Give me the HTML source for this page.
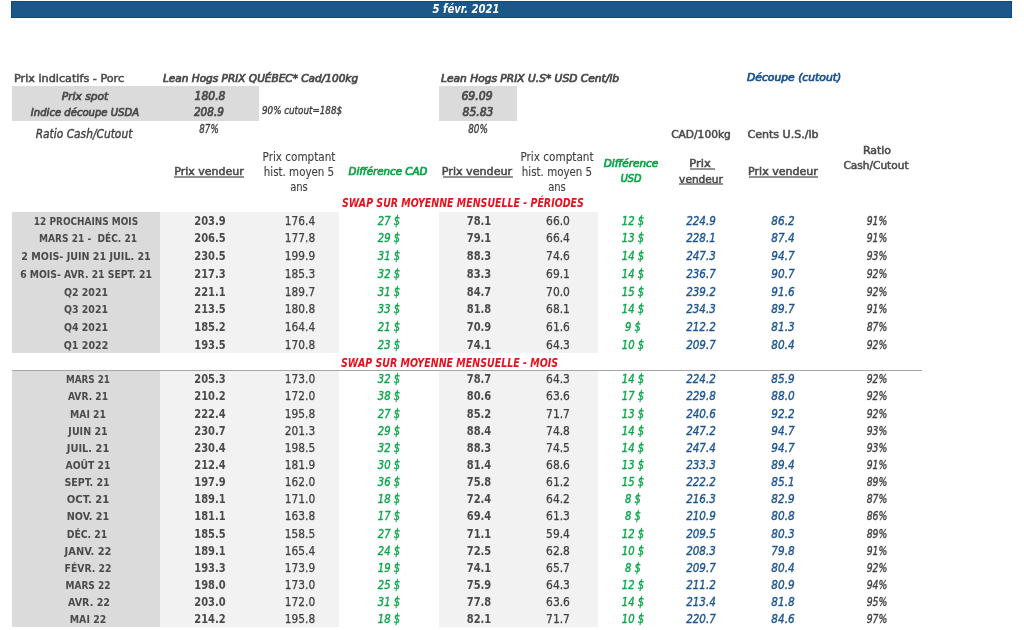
<!DOCTYPE html>
<html><head><meta charset="utf-8"><title>Prix indicatifs - Porc</title>
<style>
html,body{margin:0;padding:0;background:#fff;}
body{width:1024px;height:630px;position:relative;overflow:hidden;font-family:"DejaVu Sans Condensed","DejaVu Sans",sans-serif;}
.t{position:absolute;white-space:nowrap;font-family:"DejaVu Sans Condensed","DejaVu Sans",sans-serif;font-stretch:condensed;}
</style></head><body>
<div style="position:absolute;left:11px;top:1px;width:1001px;height:17px;background:#1c5789;box-sizing:border-box;border:1px solid #0c4a84;"></div>
<div class="t" style="top:3.40px;font-size:12px;line-height:12px;color:#ffffff;font-weight:bold;font-style:italic;left:265.84px;width:400px;text-align:center;transform:scaleX(0.9315);">5 févr. 2021</div>
<div style="position:absolute;left:12px;top:86px;width:247px;height:34.5px;background:#dbdbdb;"></div>
<div style="position:absolute;left:439px;top:86px;width:78px;height:34.5px;background:#dbdbdb;"></div>
<div class="t" style="top:73.00px;font-size:11.25px;line-height:11.25px;color:#4a4a4a;-webkit-text-stroke:0.5px #4a4a4a;left:13.71px;transform:scaleX(1.1077);transform-origin:0 0;">Prix indicatifs - Porc</div>
<div class="t" style="top:73.00px;font-size:11px;line-height:11px;color:#4a4a4a;-webkit-text-stroke:0.7px #4a4a4a;font-style:italic;left:162.88px;transform:scaleX(1.0622);transform-origin:0 0;">Lean Hogs PRIX QUÉBEC* Cad/100kg</div>
<div class="t" style="top:73.00px;font-size:11px;line-height:11px;color:#4a4a4a;-webkit-text-stroke:0.7px #4a4a4a;font-style:italic;left:440.81px;transform:scaleX(1.0757);transform-origin:0 0;">Lean Hogs PRIX U.S* USD Cent/lb</div>
<div class="t" style="top:72.00px;font-size:11px;line-height:11px;color:#1c5490;-webkit-text-stroke:0.7px #1c5490;font-style:italic;left:747.16px;transform:scaleX(1.0887);transform-origin:0 0;">Découpe (cutout)</div>
<div class="t" style="top:91.00px;font-size:11px;line-height:11px;color:#4a4a4a;-webkit-text-stroke:0.7px #4a4a4a;font-style:italic;left:-115.51px;width:400px;text-align:center;transform:scaleX(1.0798);">Prix spot</div>
<div class="t" style="top:107.00px;font-size:11px;line-height:11px;color:#4a4a4a;-webkit-text-stroke:0.7px #4a4a4a;font-style:italic;left:-115.04px;width:400px;text-align:center;transform:scaleX(1.0167);">Indice découpe USDA</div>
<div class="t" style="top:127.80px;font-size:12px;line-height:12px;color:#404040;-webkit-text-stroke:0.35px #404040;font-style:italic;left:-116.14px;width:400px;text-align:center;transform:scaleX(0.9866);">Ratio Cash/Cutout</div>
<div class="t" style="top:90.50px;font-size:11.7px;line-height:11.7px;color:#4a4a4a;-webkit-text-stroke:0.7px #4a4a4a;font-style:italic;left:9.67px;width:400px;text-align:center;transform:scaleX(1.024);">180.8</div>
<div class="t" style="top:107.00px;font-size:11.7px;line-height:11.7px;color:#4a4a4a;-webkit-text-stroke:0.7px #4a4a4a;font-style:italic;left:9.46px;width:400px;text-align:center;transform:scaleX(1.0021);">208.9</div>
<div class="t" style="top:106.30px;font-size:10px;line-height:10px;color:#404040;-webkit-text-stroke:0.35px #404040;font-style:italic;left:262.11px;transform:scaleX(0.9738);transform-origin:0 0;">90% cutout=188$</div>
<div class="t" style="top:123.30px;font-size:12px;line-height:12px;color:#404040;-webkit-text-stroke:0.35px #404040;font-style:italic;left:9.17px;width:400px;text-align:center;transform:scaleX(0.8097);">87%</div>
<div class="t" style="top:90.50px;font-size:11.7px;line-height:11.7px;color:#4a4a4a;-webkit-text-stroke:0.7px #4a4a4a;font-style:italic;left:277.36px;width:400px;text-align:center;transform:scaleX(1.0367);">69.09</div>
<div class="t" style="top:107.00px;font-size:11.7px;line-height:11.7px;color:#4a4a4a;-webkit-text-stroke:0.7px #4a4a4a;font-style:italic;left:277.92px;width:400px;text-align:center;transform:scaleX(1.0266);">85.83</div>
<div class="t" style="top:123.30px;font-size:12px;line-height:12px;color:#404040;-webkit-text-stroke:0.35px #404040;font-style:italic;left:277.52px;width:400px;text-align:center;transform:scaleX(0.8214);">80%</div>
<div class="t" style="top:129.00px;font-size:11px;line-height:11px;color:#4a4a4a;-webkit-text-stroke:0.5px #4a4a4a;left:501.05px;width:400px;text-align:center;transform:scaleX(1.0738);">CAD/100kg</div>
<div class="t" style="top:129.00px;font-size:11px;line-height:11px;color:#4a4a4a;-webkit-text-stroke:0.5px #4a4a4a;left:583.34px;width:400px;text-align:center;transform:scaleX(1.1173);">Cents U.S./lb</div>
<div class="t" style="top:166.00px;font-size:11px;line-height:11px;color:#4a4a4a;-webkit-text-stroke:0.5px #4a4a4a;left:8.96px;width:400px;text-align:center;transform:scaleX(1.1131);">Prix vendeur</div>
<div class="t" style="top:152.10px;font-size:11.5px;line-height:11.5px;color:#404040;-webkit-text-stroke:0.1px #404040;left:99.12px;width:400px;text-align:center;transform:scaleX(1.0083);">Prix comptant</div>
<div class="t" style="top:166.80px;font-size:11.5px;line-height:11.5px;color:#404040;-webkit-text-stroke:0.1px #404040;left:99.49px;width:400px;text-align:center;transform:scaleX(0.9937);">hist. moyen 5</div>
<div class="t" style="top:181.80px;font-size:11.5px;line-height:11.5px;color:#404040;-webkit-text-stroke:0.1px #404040;left:98.90px;width:400px;text-align:center;transform:scaleX(0.9687);">ans</div>
<div class="t" style="top:152.10px;font-size:11.5px;line-height:11.5px;color:#404040;-webkit-text-stroke:0.1px #404040;left:357.40px;width:400px;text-align:center;transform:scaleX(1.0131);">Prix comptant</div>
<div class="t" style="top:166.80px;font-size:11.5px;line-height:11.5px;color:#404040;-webkit-text-stroke:0.1px #404040;left:357.46px;width:400px;text-align:center;transform:scaleX(0.9932);">hist. moyen 5</div>
<div class="t" style="top:181.80px;font-size:11.5px;line-height:11.5px;color:#404040;-webkit-text-stroke:0.1px #404040;left:357.00px;width:400px;text-align:center;transform:scaleX(0.9687);">ans</div>
<div class="t" style="top:165.60px;font-size:11px;line-height:11px;color:#0aa64a;-webkit-text-stroke:0.7px #0aa64a;font-style:italic;left:188.26px;width:400px;text-align:center;transform:scaleX(1.0399);">Différence CAD</div>
<div class="t" style="top:166.00px;font-size:11px;line-height:11px;color:#4a4a4a;-webkit-text-stroke:0.5px #4a4a4a;left:276.91px;width:400px;text-align:center;transform:scaleX(1.1244);">Prix vendeur</div>
<div class="t" style="top:158.30px;font-size:11px;line-height:11px;color:#0aa64a;-webkit-text-stroke:0.7px #0aa64a;font-style:italic;left:431.46px;width:400px;text-align:center;transform:scaleX(1.058);">Différence</div>
<div class="t" style="top:173.30px;font-size:11px;line-height:11px;color:#0aa64a;-webkit-text-stroke:0.7px #0aa64a;font-style:italic;left:430.92px;width:400px;text-align:center;transform:scaleX(0.9792);">USD</div>
<div class="t" style="top:158.30px;font-size:11px;line-height:11px;color:#4a4a4a;-webkit-text-stroke:0.5px #4a4a4a;left:500.41px;width:400px;text-align:center;transform:scaleX(1.1555);">Prix</div>
<div class="t" style="top:173.50px;font-size:11px;line-height:11px;color:#4a4a4a;-webkit-text-stroke:0.5px #4a4a4a;left:501.07px;width:400px;text-align:center;transform:scaleX(1.0689);">vendeur</div>
<div class="t" style="top:166.00px;font-size:11px;line-height:11px;color:#4a4a4a;-webkit-text-stroke:0.5px #4a4a4a;left:582.63px;width:400px;text-align:center;transform:scaleX(1.1162);">Prix vendeur</div>
<div class="t" style="top:145.40px;font-size:11px;line-height:11px;color:#4a4a4a;-webkit-text-stroke:0.5px #4a4a4a;left:676.76px;width:400px;text-align:center;transform:scaleX(1.1082);">Ratio</div>
<div class="t" style="top:160.10px;font-size:11px;line-height:11px;color:#4a4a4a;-webkit-text-stroke:0.5px #4a4a4a;left:676.16px;width:400px;text-align:center;transform:scaleX(1.0667);">Cash/Cutout</div>
<div style="position:absolute;left:174.4px;top:176px;width:69.4px;height:2px;background:#939393;"></div>
<div style="position:absolute;left:443.1px;top:176px;width:69.69999999999993px;height:2px;background:#939393;"></div>
<div style="position:absolute;left:748.8px;top:176px;width:69.30000000000007px;height:2px;background:#939393;"></div>
<div style="position:absolute;left:690.1px;top:168px;width:24.899999999999977px;height:2px;background:#939393;"></div>
<div style="position:absolute;left:678.7px;top:183px;width:44.5px;height:2px;background:#939393;"></div>
<div class="t" style="top:198.20px;font-size:11.5px;line-height:11.5px;color:#e8101c;font-weight:bold;font-style:italic;left:341.57px;transform:scaleX(0.9125);transform-origin:0 0;">SWAP SUR MOYENNE MENSUELLE - PÉRIODES</div>
<div style="position:absolute;left:12px;top:212px;width:148px;height:141.0px;background:#dbdbdb;"></div>
<div style="position:absolute;left:160px;top:212px;width:179px;height:141.0px;background:#f2f2f2;"></div>
<div style="position:absolute;left:439px;top:212px;width:158.5px;height:141.0px;background:#f2f2f2;"></div>
<div class="t" style="top:215.80px;font-size:11px;line-height:11px;color:#4a4a4a;font-weight:bold;left:-113.88px;width:400px;text-align:center;transform:scaleX(0.9043);">12 PROCHAINS MOIS</div>
<div class="t" style="top:214.80px;font-size:12px;line-height:12px;color:#4a4a4a;font-weight:bold;left:10.30px;width:400px;text-align:center;transform:scaleX(0.92);">203.9</div>
<div class="t" style="top:214.80px;font-size:12px;line-height:12px;color:#404040;-webkit-text-stroke:0.25px #404040;left:99.90px;width:400px;text-align:center;transform:scaleX(0.98);">176.4</div>
<div class="t" style="top:214.80px;font-size:12px;line-height:12px;color:#0aa64a;-webkit-text-stroke:0.35px #0aa64a;font-style:italic;left:188.90px;width:400px;text-align:center;transform:scaleX(0.93);">27 $</div>
<div class="t" style="top:214.80px;font-size:12px;line-height:12px;color:#4a4a4a;font-weight:bold;left:278.60px;width:400px;text-align:center;transform:scaleX(0.92);">78.1</div>
<div class="t" style="top:214.80px;font-size:12px;line-height:12px;color:#404040;-webkit-text-stroke:0.25px #404040;left:358.30px;width:400px;text-align:center;transform:scaleX(0.99);">66.0</div>
<div class="t" style="top:214.80px;font-size:12px;line-height:12px;color:#0aa64a;-webkit-text-stroke:0.35px #0aa64a;font-style:italic;left:432.60px;width:400px;text-align:center;transform:scaleX(0.93);">12 $</div>
<div class="t" style="top:214.80px;font-size:12px;line-height:12px;color:#1c5490;-webkit-text-stroke:0.35px #1c5490;font-style:italic;left:500.70px;width:400px;text-align:center;transform:scaleX(0.96);">224.9</div>
<div class="t" style="top:214.80px;font-size:12px;line-height:12px;color:#1c5490;-webkit-text-stroke:0.35px #1c5490;font-style:italic;left:583.20px;width:400px;text-align:center;transform:scaleX(0.97);">86.2</div>
<div class="t" style="top:214.80px;font-size:12px;line-height:12px;color:#404040;-webkit-text-stroke:0.35px #404040;font-style:italic;left:677.00px;width:400px;text-align:center;transform:scaleX(0.86);">91%</div>
<div class="t" style="top:233.48px;font-size:11px;line-height:11px;color:#4a4a4a;font-weight:bold;left:-112.32px;width:400px;text-align:center;transform:scaleX(0.9156);">MARS 21 -&nbsp; DÉC. 21</div>
<div class="t" style="top:232.48px;font-size:12px;line-height:12px;color:#4a4a4a;font-weight:bold;left:10.30px;width:400px;text-align:center;transform:scaleX(0.92);">206.5</div>
<div class="t" style="top:232.48px;font-size:12px;line-height:12px;color:#404040;-webkit-text-stroke:0.25px #404040;left:99.90px;width:400px;text-align:center;transform:scaleX(0.98);">177.8</div>
<div class="t" style="top:232.48px;font-size:12px;line-height:12px;color:#0aa64a;-webkit-text-stroke:0.35px #0aa64a;font-style:italic;left:188.90px;width:400px;text-align:center;transform:scaleX(0.93);">29 $</div>
<div class="t" style="top:232.48px;font-size:12px;line-height:12px;color:#4a4a4a;font-weight:bold;left:278.60px;width:400px;text-align:center;transform:scaleX(0.92);">79.1</div>
<div class="t" style="top:232.48px;font-size:12px;line-height:12px;color:#404040;-webkit-text-stroke:0.25px #404040;left:358.30px;width:400px;text-align:center;transform:scaleX(0.99);">66.4</div>
<div class="t" style="top:232.48px;font-size:12px;line-height:12px;color:#0aa64a;-webkit-text-stroke:0.35px #0aa64a;font-style:italic;left:432.60px;width:400px;text-align:center;transform:scaleX(0.93);">13 $</div>
<div class="t" style="top:232.48px;font-size:12px;line-height:12px;color:#1c5490;-webkit-text-stroke:0.35px #1c5490;font-style:italic;left:500.70px;width:400px;text-align:center;transform:scaleX(0.96);">228.1</div>
<div class="t" style="top:232.48px;font-size:12px;line-height:12px;color:#1c5490;-webkit-text-stroke:0.35px #1c5490;font-style:italic;left:583.20px;width:400px;text-align:center;transform:scaleX(0.97);">87.4</div>
<div class="t" style="top:232.48px;font-size:12px;line-height:12px;color:#404040;-webkit-text-stroke:0.35px #404040;font-style:italic;left:677.00px;width:400px;text-align:center;transform:scaleX(0.86);">91%</div>
<div class="t" style="top:251.16px;font-size:11px;line-height:11px;color:#4a4a4a;font-weight:bold;left:-114.38px;width:400px;text-align:center;transform:scaleX(0.9669);">2 MOIS- JUIN 21 JUIL. 21</div>
<div class="t" style="top:250.16px;font-size:12px;line-height:12px;color:#4a4a4a;font-weight:bold;left:10.30px;width:400px;text-align:center;transform:scaleX(0.92);">230.5</div>
<div class="t" style="top:250.16px;font-size:12px;line-height:12px;color:#404040;-webkit-text-stroke:0.25px #404040;left:99.90px;width:400px;text-align:center;transform:scaleX(0.98);">199.9</div>
<div class="t" style="top:250.16px;font-size:12px;line-height:12px;color:#0aa64a;-webkit-text-stroke:0.35px #0aa64a;font-style:italic;left:188.90px;width:400px;text-align:center;transform:scaleX(0.93);">31 $</div>
<div class="t" style="top:250.16px;font-size:12px;line-height:12px;color:#4a4a4a;font-weight:bold;left:278.60px;width:400px;text-align:center;transform:scaleX(0.92);">88.3</div>
<div class="t" style="top:250.16px;font-size:12px;line-height:12px;color:#404040;-webkit-text-stroke:0.25px #404040;left:358.30px;width:400px;text-align:center;transform:scaleX(0.99);">74.6</div>
<div class="t" style="top:250.16px;font-size:12px;line-height:12px;color:#0aa64a;-webkit-text-stroke:0.35px #0aa64a;font-style:italic;left:432.60px;width:400px;text-align:center;transform:scaleX(0.93);">14 $</div>
<div class="t" style="top:250.16px;font-size:12px;line-height:12px;color:#1c5490;-webkit-text-stroke:0.35px #1c5490;font-style:italic;left:500.70px;width:400px;text-align:center;transform:scaleX(0.96);">247.3</div>
<div class="t" style="top:250.16px;font-size:12px;line-height:12px;color:#1c5490;-webkit-text-stroke:0.35px #1c5490;font-style:italic;left:583.20px;width:400px;text-align:center;transform:scaleX(0.97);">94.7</div>
<div class="t" style="top:250.16px;font-size:12px;line-height:12px;color:#404040;-webkit-text-stroke:0.35px #404040;font-style:italic;left:677.00px;width:400px;text-align:center;transform:scaleX(0.86);">93%</div>
<div class="t" style="top:268.84px;font-size:11px;line-height:11px;color:#4a4a4a;font-weight:bold;left:-113.57px;width:400px;text-align:center;transform:scaleX(0.9346);">6 MOIS- AVR. 21 SEPT. 21</div>
<div class="t" style="top:267.84px;font-size:12px;line-height:12px;color:#4a4a4a;font-weight:bold;left:10.30px;width:400px;text-align:center;transform:scaleX(0.92);">217.3</div>
<div class="t" style="top:267.84px;font-size:12px;line-height:12px;color:#404040;-webkit-text-stroke:0.25px #404040;left:99.90px;width:400px;text-align:center;transform:scaleX(0.98);">185.3</div>
<div class="t" style="top:267.84px;font-size:12px;line-height:12px;color:#0aa64a;-webkit-text-stroke:0.35px #0aa64a;font-style:italic;left:188.90px;width:400px;text-align:center;transform:scaleX(0.93);">32 $</div>
<div class="t" style="top:267.84px;font-size:12px;line-height:12px;color:#4a4a4a;font-weight:bold;left:278.60px;width:400px;text-align:center;transform:scaleX(0.92);">83.3</div>
<div class="t" style="top:267.84px;font-size:12px;line-height:12px;color:#404040;-webkit-text-stroke:0.25px #404040;left:358.30px;width:400px;text-align:center;transform:scaleX(0.99);">69.1</div>
<div class="t" style="top:267.84px;font-size:12px;line-height:12px;color:#0aa64a;-webkit-text-stroke:0.35px #0aa64a;font-style:italic;left:432.60px;width:400px;text-align:center;transform:scaleX(0.93);">14 $</div>
<div class="t" style="top:267.84px;font-size:12px;line-height:12px;color:#1c5490;-webkit-text-stroke:0.35px #1c5490;font-style:italic;left:500.70px;width:400px;text-align:center;transform:scaleX(0.96);">236.7</div>
<div class="t" style="top:267.84px;font-size:12px;line-height:12px;color:#1c5490;-webkit-text-stroke:0.35px #1c5490;font-style:italic;left:583.20px;width:400px;text-align:center;transform:scaleX(0.97);">90.7</div>
<div class="t" style="top:267.84px;font-size:12px;line-height:12px;color:#404040;-webkit-text-stroke:0.35px #404040;font-style:italic;left:677.00px;width:400px;text-align:center;transform:scaleX(0.86);">92%</div>
<div class="t" style="top:286.52px;font-size:11px;line-height:11px;color:#4a4a4a;font-weight:bold;left:-114.37px;width:400px;text-align:center;transform:scaleX(0.9537);">Q2 2021</div>
<div class="t" style="top:285.52px;font-size:12px;line-height:12px;color:#4a4a4a;font-weight:bold;left:10.30px;width:400px;text-align:center;transform:scaleX(0.92);">221.1</div>
<div class="t" style="top:285.52px;font-size:12px;line-height:12px;color:#404040;-webkit-text-stroke:0.25px #404040;left:99.90px;width:400px;text-align:center;transform:scaleX(0.98);">189.7</div>
<div class="t" style="top:285.52px;font-size:12px;line-height:12px;color:#0aa64a;-webkit-text-stroke:0.35px #0aa64a;font-style:italic;left:188.90px;width:400px;text-align:center;transform:scaleX(0.93);">31 $</div>
<div class="t" style="top:285.52px;font-size:12px;line-height:12px;color:#4a4a4a;font-weight:bold;left:278.60px;width:400px;text-align:center;transform:scaleX(0.92);">84.7</div>
<div class="t" style="top:285.52px;font-size:12px;line-height:12px;color:#404040;-webkit-text-stroke:0.25px #404040;left:358.30px;width:400px;text-align:center;transform:scaleX(0.99);">70.0</div>
<div class="t" style="top:285.52px;font-size:12px;line-height:12px;color:#0aa64a;-webkit-text-stroke:0.35px #0aa64a;font-style:italic;left:432.60px;width:400px;text-align:center;transform:scaleX(0.93);">15 $</div>
<div class="t" style="top:285.52px;font-size:12px;line-height:12px;color:#1c5490;-webkit-text-stroke:0.35px #1c5490;font-style:italic;left:500.70px;width:400px;text-align:center;transform:scaleX(0.96);">239.2</div>
<div class="t" style="top:285.52px;font-size:12px;line-height:12px;color:#1c5490;-webkit-text-stroke:0.35px #1c5490;font-style:italic;left:583.20px;width:400px;text-align:center;transform:scaleX(0.97);">91.6</div>
<div class="t" style="top:285.52px;font-size:12px;line-height:12px;color:#404040;-webkit-text-stroke:0.35px #404040;font-style:italic;left:677.00px;width:400px;text-align:center;transform:scaleX(0.86);">92%</div>
<div class="t" style="top:304.20px;font-size:11px;line-height:11px;color:#4a4a4a;font-weight:bold;left:-114.37px;width:400px;text-align:center;transform:scaleX(0.9537);">Q3 2021</div>
<div class="t" style="top:303.20px;font-size:12px;line-height:12px;color:#4a4a4a;font-weight:bold;left:10.30px;width:400px;text-align:center;transform:scaleX(0.92);">213.5</div>
<div class="t" style="top:303.20px;font-size:12px;line-height:12px;color:#404040;-webkit-text-stroke:0.25px #404040;left:99.90px;width:400px;text-align:center;transform:scaleX(0.98);">180.8</div>
<div class="t" style="top:303.20px;font-size:12px;line-height:12px;color:#0aa64a;-webkit-text-stroke:0.35px #0aa64a;font-style:italic;left:188.90px;width:400px;text-align:center;transform:scaleX(0.93);">33 $</div>
<div class="t" style="top:303.20px;font-size:12px;line-height:12px;color:#4a4a4a;font-weight:bold;left:278.60px;width:400px;text-align:center;transform:scaleX(0.92);">81.8</div>
<div class="t" style="top:303.20px;font-size:12px;line-height:12px;color:#404040;-webkit-text-stroke:0.25px #404040;left:358.30px;width:400px;text-align:center;transform:scaleX(0.99);">68.1</div>
<div class="t" style="top:303.20px;font-size:12px;line-height:12px;color:#0aa64a;-webkit-text-stroke:0.35px #0aa64a;font-style:italic;left:432.60px;width:400px;text-align:center;transform:scaleX(0.93);">14 $</div>
<div class="t" style="top:303.20px;font-size:12px;line-height:12px;color:#1c5490;-webkit-text-stroke:0.35px #1c5490;font-style:italic;left:500.70px;width:400px;text-align:center;transform:scaleX(0.96);">234.3</div>
<div class="t" style="top:303.20px;font-size:12px;line-height:12px;color:#1c5490;-webkit-text-stroke:0.35px #1c5490;font-style:italic;left:583.20px;width:400px;text-align:center;transform:scaleX(0.97);">89.7</div>
<div class="t" style="top:303.20px;font-size:12px;line-height:12px;color:#404040;-webkit-text-stroke:0.35px #404040;font-style:italic;left:677.00px;width:400px;text-align:center;transform:scaleX(0.86);">91%</div>
<div class="t" style="top:321.88px;font-size:11px;line-height:11px;color:#4a4a4a;font-weight:bold;left:-114.37px;width:400px;text-align:center;transform:scaleX(0.9537);">Q4 2021</div>
<div class="t" style="top:320.88px;font-size:12px;line-height:12px;color:#4a4a4a;font-weight:bold;left:10.30px;width:400px;text-align:center;transform:scaleX(0.92);">185.2</div>
<div class="t" style="top:320.88px;font-size:12px;line-height:12px;color:#404040;-webkit-text-stroke:0.25px #404040;left:99.90px;width:400px;text-align:center;transform:scaleX(0.98);">164.4</div>
<div class="t" style="top:320.88px;font-size:12px;line-height:12px;color:#0aa64a;-webkit-text-stroke:0.35px #0aa64a;font-style:italic;left:188.90px;width:400px;text-align:center;transform:scaleX(0.93);">21 $</div>
<div class="t" style="top:320.88px;font-size:12px;line-height:12px;color:#4a4a4a;font-weight:bold;left:278.60px;width:400px;text-align:center;transform:scaleX(0.92);">70.9</div>
<div class="t" style="top:320.88px;font-size:12px;line-height:12px;color:#404040;-webkit-text-stroke:0.25px #404040;left:358.30px;width:400px;text-align:center;transform:scaleX(0.99);">61.6</div>
<div class="t" style="top:320.88px;font-size:12px;line-height:12px;color:#0aa64a;-webkit-text-stroke:0.35px #0aa64a;font-style:italic;left:432.60px;width:400px;text-align:center;transform:scaleX(0.93);">9 $</div>
<div class="t" style="top:320.88px;font-size:12px;line-height:12px;color:#1c5490;-webkit-text-stroke:0.35px #1c5490;font-style:italic;left:500.70px;width:400px;text-align:center;transform:scaleX(0.96);">212.2</div>
<div class="t" style="top:320.88px;font-size:12px;line-height:12px;color:#1c5490;-webkit-text-stroke:0.35px #1c5490;font-style:italic;left:583.20px;width:400px;text-align:center;transform:scaleX(0.97);">81.3</div>
<div class="t" style="top:320.88px;font-size:12px;line-height:12px;color:#404040;-webkit-text-stroke:0.35px #404040;font-style:italic;left:677.00px;width:400px;text-align:center;transform:scaleX(0.86);">87%</div>
<div class="t" style="top:339.56px;font-size:11px;line-height:11px;color:#4a4a4a;font-weight:bold;left:-114.12px;width:400px;text-align:center;transform:scaleX(0.9628);">Q1 2022</div>
<div class="t" style="top:338.56px;font-size:12px;line-height:12px;color:#4a4a4a;font-weight:bold;left:10.30px;width:400px;text-align:center;transform:scaleX(0.92);">193.5</div>
<div class="t" style="top:338.56px;font-size:12px;line-height:12px;color:#404040;-webkit-text-stroke:0.25px #404040;left:99.90px;width:400px;text-align:center;transform:scaleX(0.98);">170.8</div>
<div class="t" style="top:338.56px;font-size:12px;line-height:12px;color:#0aa64a;-webkit-text-stroke:0.35px #0aa64a;font-style:italic;left:188.90px;width:400px;text-align:center;transform:scaleX(0.93);">23 $</div>
<div class="t" style="top:338.56px;font-size:12px;line-height:12px;color:#4a4a4a;font-weight:bold;left:278.60px;width:400px;text-align:center;transform:scaleX(0.92);">74.1</div>
<div class="t" style="top:338.56px;font-size:12px;line-height:12px;color:#404040;-webkit-text-stroke:0.25px #404040;left:358.30px;width:400px;text-align:center;transform:scaleX(0.99);">64.3</div>
<div class="t" style="top:338.56px;font-size:12px;line-height:12px;color:#0aa64a;-webkit-text-stroke:0.35px #0aa64a;font-style:italic;left:432.60px;width:400px;text-align:center;transform:scaleX(0.93);">10 $</div>
<div class="t" style="top:338.56px;font-size:12px;line-height:12px;color:#1c5490;-webkit-text-stroke:0.35px #1c5490;font-style:italic;left:500.70px;width:400px;text-align:center;transform:scaleX(0.96);">209.7</div>
<div class="t" style="top:338.56px;font-size:12px;line-height:12px;color:#1c5490;-webkit-text-stroke:0.35px #1c5490;font-style:italic;left:583.20px;width:400px;text-align:center;transform:scaleX(0.97);">80.4</div>
<div class="t" style="top:338.56px;font-size:12px;line-height:12px;color:#404040;-webkit-text-stroke:0.35px #404040;font-style:italic;left:677.00px;width:400px;text-align:center;transform:scaleX(0.86);">92%</div>
<div class="t" style="top:357.60px;font-size:11.5px;line-height:11.5px;color:#e8101c;font-weight:bold;font-style:italic;left:341.37px;transform:scaleX(0.9164);transform-origin:0 0;">SWAP SUR MOYENNE MENSUELLE - MOIS</div>
<div style="position:absolute;left:12px;top:370px;width:910px;height:1px;background:#a6a6a6;"></div>
<div style="position:absolute;left:12px;top:371px;width:148px;height:256.0px;background:#dbdbdb;"></div>
<div style="position:absolute;left:160px;top:371px;width:179px;height:256.0px;background:#f2f2f2;"></div>
<div style="position:absolute;left:439px;top:371px;width:158.5px;height:256.0px;background:#f2f2f2;"></div>
<div class="t" style="top:374.20px;font-size:11px;line-height:11px;color:#4a4a4a;font-weight:bold;left:-112.38px;width:400px;text-align:center;transform:scaleX(0.8882);">MARS 21</div>
<div class="t" style="top:373.20px;font-size:12px;line-height:12px;color:#4a4a4a;font-weight:bold;left:10.30px;width:400px;text-align:center;transform:scaleX(0.92);">205.3</div>
<div class="t" style="top:373.20px;font-size:12px;line-height:12px;color:#404040;-webkit-text-stroke:0.25px #404040;left:99.90px;width:400px;text-align:center;transform:scaleX(0.98);">173.0</div>
<div class="t" style="top:373.20px;font-size:12px;line-height:12px;color:#0aa64a;-webkit-text-stroke:0.35px #0aa64a;font-style:italic;left:188.90px;width:400px;text-align:center;transform:scaleX(0.93);">32 $</div>
<div class="t" style="top:373.20px;font-size:12px;line-height:12px;color:#4a4a4a;font-weight:bold;left:278.60px;width:400px;text-align:center;transform:scaleX(0.92);">78.7</div>
<div class="t" style="top:373.20px;font-size:12px;line-height:12px;color:#404040;-webkit-text-stroke:0.25px #404040;left:358.30px;width:400px;text-align:center;transform:scaleX(0.99);">64.3</div>
<div class="t" style="top:373.20px;font-size:12px;line-height:12px;color:#0aa64a;-webkit-text-stroke:0.35px #0aa64a;font-style:italic;left:432.60px;width:400px;text-align:center;transform:scaleX(0.93);">14 $</div>
<div class="t" style="top:373.20px;font-size:12px;line-height:12px;color:#1c5490;-webkit-text-stroke:0.35px #1c5490;font-style:italic;left:500.70px;width:400px;text-align:center;transform:scaleX(0.96);">224.2</div>
<div class="t" style="top:373.20px;font-size:12px;line-height:12px;color:#1c5490;-webkit-text-stroke:0.35px #1c5490;font-style:italic;left:583.20px;width:400px;text-align:center;transform:scaleX(0.97);">85.9</div>
<div class="t" style="top:373.20px;font-size:12px;line-height:12px;color:#404040;-webkit-text-stroke:0.35px #404040;font-style:italic;left:677.00px;width:400px;text-align:center;transform:scaleX(0.86);">92%</div>
<div class="t" style="top:391.35px;font-size:11px;line-height:11px;color:#4a4a4a;font-weight:bold;left:-111.87px;width:400px;text-align:center;transform:scaleX(0.9261);">AVR. 21</div>
<div class="t" style="top:390.35px;font-size:12px;line-height:12px;color:#4a4a4a;font-weight:bold;left:10.30px;width:400px;text-align:center;transform:scaleX(0.92);">210.2</div>
<div class="t" style="top:390.35px;font-size:12px;line-height:12px;color:#404040;-webkit-text-stroke:0.25px #404040;left:99.90px;width:400px;text-align:center;transform:scaleX(0.98);">172.0</div>
<div class="t" style="top:390.35px;font-size:12px;line-height:12px;color:#0aa64a;-webkit-text-stroke:0.35px #0aa64a;font-style:italic;left:188.90px;width:400px;text-align:center;transform:scaleX(0.93);">38 $</div>
<div class="t" style="top:390.35px;font-size:12px;line-height:12px;color:#4a4a4a;font-weight:bold;left:278.60px;width:400px;text-align:center;transform:scaleX(0.92);">80.6</div>
<div class="t" style="top:390.35px;font-size:12px;line-height:12px;color:#404040;-webkit-text-stroke:0.25px #404040;left:358.30px;width:400px;text-align:center;transform:scaleX(0.99);">63.6</div>
<div class="t" style="top:390.35px;font-size:12px;line-height:12px;color:#0aa64a;-webkit-text-stroke:0.35px #0aa64a;font-style:italic;left:432.60px;width:400px;text-align:center;transform:scaleX(0.93);">17 $</div>
<div class="t" style="top:390.35px;font-size:12px;line-height:12px;color:#1c5490;-webkit-text-stroke:0.35px #1c5490;font-style:italic;left:500.70px;width:400px;text-align:center;transform:scaleX(0.96);">229.8</div>
<div class="t" style="top:390.35px;font-size:12px;line-height:12px;color:#1c5490;-webkit-text-stroke:0.35px #1c5490;font-style:italic;left:583.20px;width:400px;text-align:center;transform:scaleX(0.97);">88.0</div>
<div class="t" style="top:390.35px;font-size:12px;line-height:12px;color:#404040;-webkit-text-stroke:0.35px #404040;font-style:italic;left:677.00px;width:400px;text-align:center;transform:scaleX(0.86);">92%</div>
<div class="t" style="top:408.50px;font-size:11px;line-height:11px;color:#4a4a4a;font-weight:bold;left:-112.18px;width:400px;text-align:center;transform:scaleX(0.933);">MAI 21</div>
<div class="t" style="top:407.50px;font-size:12px;line-height:12px;color:#4a4a4a;font-weight:bold;left:10.30px;width:400px;text-align:center;transform:scaleX(0.92);">222.4</div>
<div class="t" style="top:407.50px;font-size:12px;line-height:12px;color:#404040;-webkit-text-stroke:0.25px #404040;left:99.90px;width:400px;text-align:center;transform:scaleX(0.98);">195.8</div>
<div class="t" style="top:407.50px;font-size:12px;line-height:12px;color:#0aa64a;-webkit-text-stroke:0.35px #0aa64a;font-style:italic;left:188.90px;width:400px;text-align:center;transform:scaleX(0.93);">27 $</div>
<div class="t" style="top:407.50px;font-size:12px;line-height:12px;color:#4a4a4a;font-weight:bold;left:278.60px;width:400px;text-align:center;transform:scaleX(0.92);">85.2</div>
<div class="t" style="top:407.50px;font-size:12px;line-height:12px;color:#404040;-webkit-text-stroke:0.25px #404040;left:358.30px;width:400px;text-align:center;transform:scaleX(0.99);">71.7</div>
<div class="t" style="top:407.50px;font-size:12px;line-height:12px;color:#0aa64a;-webkit-text-stroke:0.35px #0aa64a;font-style:italic;left:432.60px;width:400px;text-align:center;transform:scaleX(0.93);">13 $</div>
<div class="t" style="top:407.50px;font-size:12px;line-height:12px;color:#1c5490;-webkit-text-stroke:0.35px #1c5490;font-style:italic;left:500.70px;width:400px;text-align:center;transform:scaleX(0.96);">240.6</div>
<div class="t" style="top:407.50px;font-size:12px;line-height:12px;color:#1c5490;-webkit-text-stroke:0.35px #1c5490;font-style:italic;left:583.20px;width:400px;text-align:center;transform:scaleX(0.97);">92.2</div>
<div class="t" style="top:407.50px;font-size:12px;line-height:12px;color:#404040;-webkit-text-stroke:0.35px #404040;font-style:italic;left:677.00px;width:400px;text-align:center;transform:scaleX(0.86);">92%</div>
<div class="t" style="top:425.65px;font-size:11px;line-height:11px;color:#4a4a4a;font-weight:bold;left:-111.61px;width:400px;text-align:center;transform:scaleX(0.9596);">JUIN 21</div>
<div class="t" style="top:424.65px;font-size:12px;line-height:12px;color:#4a4a4a;font-weight:bold;left:10.30px;width:400px;text-align:center;transform:scaleX(0.92);">230.7</div>
<div class="t" style="top:424.65px;font-size:12px;line-height:12px;color:#404040;-webkit-text-stroke:0.25px #404040;left:99.90px;width:400px;text-align:center;transform:scaleX(0.98);">201.3</div>
<div class="t" style="top:424.65px;font-size:12px;line-height:12px;color:#0aa64a;-webkit-text-stroke:0.35px #0aa64a;font-style:italic;left:188.90px;width:400px;text-align:center;transform:scaleX(0.93);">29 $</div>
<div class="t" style="top:424.65px;font-size:12px;line-height:12px;color:#4a4a4a;font-weight:bold;left:278.60px;width:400px;text-align:center;transform:scaleX(0.92);">88.4</div>
<div class="t" style="top:424.65px;font-size:12px;line-height:12px;color:#404040;-webkit-text-stroke:0.25px #404040;left:358.30px;width:400px;text-align:center;transform:scaleX(0.99);">74.8</div>
<div class="t" style="top:424.65px;font-size:12px;line-height:12px;color:#0aa64a;-webkit-text-stroke:0.35px #0aa64a;font-style:italic;left:432.60px;width:400px;text-align:center;transform:scaleX(0.93);">14 $</div>
<div class="t" style="top:424.65px;font-size:12px;line-height:12px;color:#1c5490;-webkit-text-stroke:0.35px #1c5490;font-style:italic;left:500.70px;width:400px;text-align:center;transform:scaleX(0.96);">247.2</div>
<div class="t" style="top:424.65px;font-size:12px;line-height:12px;color:#1c5490;-webkit-text-stroke:0.35px #1c5490;font-style:italic;left:583.20px;width:400px;text-align:center;transform:scaleX(0.97);">94.7</div>
<div class="t" style="top:424.65px;font-size:12px;line-height:12px;color:#404040;-webkit-text-stroke:0.35px #404040;font-style:italic;left:677.00px;width:400px;text-align:center;transform:scaleX(0.86);">93%</div>
<div class="t" style="top:442.80px;font-size:11px;line-height:11px;color:#4a4a4a;font-weight:bold;left:-112.23px;width:400px;text-align:center;transform:scaleX(0.9965);">JUIL. 21</div>
<div class="t" style="top:441.80px;font-size:12px;line-height:12px;color:#4a4a4a;font-weight:bold;left:10.30px;width:400px;text-align:center;transform:scaleX(0.92);">230.4</div>
<div class="t" style="top:441.80px;font-size:12px;line-height:12px;color:#404040;-webkit-text-stroke:0.25px #404040;left:99.90px;width:400px;text-align:center;transform:scaleX(0.98);">198.5</div>
<div class="t" style="top:441.80px;font-size:12px;line-height:12px;color:#0aa64a;-webkit-text-stroke:0.35px #0aa64a;font-style:italic;left:188.90px;width:400px;text-align:center;transform:scaleX(0.93);">32 $</div>
<div class="t" style="top:441.80px;font-size:12px;line-height:12px;color:#4a4a4a;font-weight:bold;left:278.60px;width:400px;text-align:center;transform:scaleX(0.92);">88.3</div>
<div class="t" style="top:441.80px;font-size:12px;line-height:12px;color:#404040;-webkit-text-stroke:0.25px #404040;left:358.30px;width:400px;text-align:center;transform:scaleX(0.99);">74.5</div>
<div class="t" style="top:441.80px;font-size:12px;line-height:12px;color:#0aa64a;-webkit-text-stroke:0.35px #0aa64a;font-style:italic;left:432.60px;width:400px;text-align:center;transform:scaleX(0.93);">14 $</div>
<div class="t" style="top:441.80px;font-size:12px;line-height:12px;color:#1c5490;-webkit-text-stroke:0.35px #1c5490;font-style:italic;left:500.70px;width:400px;text-align:center;transform:scaleX(0.96);">247.4</div>
<div class="t" style="top:441.80px;font-size:12px;line-height:12px;color:#1c5490;-webkit-text-stroke:0.35px #1c5490;font-style:italic;left:583.20px;width:400px;text-align:center;transform:scaleX(0.97);">94.7</div>
<div class="t" style="top:441.80px;font-size:12px;line-height:12px;color:#404040;-webkit-text-stroke:0.35px #404040;font-style:italic;left:677.00px;width:400px;text-align:center;transform:scaleX(0.86);">93%</div>
<div class="t" style="top:459.95px;font-size:11px;line-height:11px;color:#4a4a4a;font-weight:bold;left:-112.42px;width:400px;text-align:center;transform:scaleX(0.9379);">AOÛT 21</div>
<div class="t" style="top:458.95px;font-size:12px;line-height:12px;color:#4a4a4a;font-weight:bold;left:10.30px;width:400px;text-align:center;transform:scaleX(0.92);">212.4</div>
<div class="t" style="top:458.95px;font-size:12px;line-height:12px;color:#404040;-webkit-text-stroke:0.25px #404040;left:99.90px;width:400px;text-align:center;transform:scaleX(0.98);">181.9</div>
<div class="t" style="top:458.95px;font-size:12px;line-height:12px;color:#0aa64a;-webkit-text-stroke:0.35px #0aa64a;font-style:italic;left:188.90px;width:400px;text-align:center;transform:scaleX(0.93);">30 $</div>
<div class="t" style="top:458.95px;font-size:12px;line-height:12px;color:#4a4a4a;font-weight:bold;left:278.60px;width:400px;text-align:center;transform:scaleX(0.92);">81.4</div>
<div class="t" style="top:458.95px;font-size:12px;line-height:12px;color:#404040;-webkit-text-stroke:0.25px #404040;left:358.30px;width:400px;text-align:center;transform:scaleX(0.99);">68.6</div>
<div class="t" style="top:458.95px;font-size:12px;line-height:12px;color:#0aa64a;-webkit-text-stroke:0.35px #0aa64a;font-style:italic;left:432.60px;width:400px;text-align:center;transform:scaleX(0.93);">13 $</div>
<div class="t" style="top:458.95px;font-size:12px;line-height:12px;color:#1c5490;-webkit-text-stroke:0.35px #1c5490;font-style:italic;left:500.70px;width:400px;text-align:center;transform:scaleX(0.96);">233.3</div>
<div class="t" style="top:458.95px;font-size:12px;line-height:12px;color:#1c5490;-webkit-text-stroke:0.35px #1c5490;font-style:italic;left:583.20px;width:400px;text-align:center;transform:scaleX(0.97);">89.4</div>
<div class="t" style="top:458.95px;font-size:12px;line-height:12px;color:#404040;-webkit-text-stroke:0.35px #404040;font-style:italic;left:677.00px;width:400px;text-align:center;transform:scaleX(0.86);">91%</div>
<div class="t" style="top:477.10px;font-size:11px;line-height:11px;color:#4a4a4a;font-weight:bold;left:-112.67px;width:400px;text-align:center;transform:scaleX(0.9559);">SEPT. 21</div>
<div class="t" style="top:476.10px;font-size:12px;line-height:12px;color:#4a4a4a;font-weight:bold;left:10.30px;width:400px;text-align:center;transform:scaleX(0.92);">197.9</div>
<div class="t" style="top:476.10px;font-size:12px;line-height:12px;color:#404040;-webkit-text-stroke:0.25px #404040;left:99.90px;width:400px;text-align:center;transform:scaleX(0.98);">162.0</div>
<div class="t" style="top:476.10px;font-size:12px;line-height:12px;color:#0aa64a;-webkit-text-stroke:0.35px #0aa64a;font-style:italic;left:188.90px;width:400px;text-align:center;transform:scaleX(0.93);">36 $</div>
<div class="t" style="top:476.10px;font-size:12px;line-height:12px;color:#4a4a4a;font-weight:bold;left:278.60px;width:400px;text-align:center;transform:scaleX(0.92);">75.8</div>
<div class="t" style="top:476.10px;font-size:12px;line-height:12px;color:#404040;-webkit-text-stroke:0.25px #404040;left:358.30px;width:400px;text-align:center;transform:scaleX(0.99);">61.2</div>
<div class="t" style="top:476.10px;font-size:12px;line-height:12px;color:#0aa64a;-webkit-text-stroke:0.35px #0aa64a;font-style:italic;left:432.60px;width:400px;text-align:center;transform:scaleX(0.93);">15 $</div>
<div class="t" style="top:476.10px;font-size:12px;line-height:12px;color:#1c5490;-webkit-text-stroke:0.35px #1c5490;font-style:italic;left:500.70px;width:400px;text-align:center;transform:scaleX(0.96);">222.2</div>
<div class="t" style="top:476.10px;font-size:12px;line-height:12px;color:#1c5490;-webkit-text-stroke:0.35px #1c5490;font-style:italic;left:583.20px;width:400px;text-align:center;transform:scaleX(0.97);">85.1</div>
<div class="t" style="top:476.10px;font-size:12px;line-height:12px;color:#404040;-webkit-text-stroke:0.35px #404040;font-style:italic;left:677.00px;width:400px;text-align:center;transform:scaleX(0.86);">89%</div>
<div class="t" style="top:494.25px;font-size:11px;line-height:11px;color:#4a4a4a;font-weight:bold;left:-112.49px;width:400px;text-align:center;transform:scaleX(1.0149);">OCT. 21</div>
<div class="t" style="top:493.25px;font-size:12px;line-height:12px;color:#4a4a4a;font-weight:bold;left:10.30px;width:400px;text-align:center;transform:scaleX(0.92);">189.1</div>
<div class="t" style="top:493.25px;font-size:12px;line-height:12px;color:#404040;-webkit-text-stroke:0.25px #404040;left:99.90px;width:400px;text-align:center;transform:scaleX(0.98);">171.0</div>
<div class="t" style="top:493.25px;font-size:12px;line-height:12px;color:#0aa64a;-webkit-text-stroke:0.35px #0aa64a;font-style:italic;left:188.90px;width:400px;text-align:center;transform:scaleX(0.93);">18 $</div>
<div class="t" style="top:493.25px;font-size:12px;line-height:12px;color:#4a4a4a;font-weight:bold;left:278.60px;width:400px;text-align:center;transform:scaleX(0.92);">72.4</div>
<div class="t" style="top:493.25px;font-size:12px;line-height:12px;color:#404040;-webkit-text-stroke:0.25px #404040;left:358.30px;width:400px;text-align:center;transform:scaleX(0.99);">64.2</div>
<div class="t" style="top:493.25px;font-size:12px;line-height:12px;color:#0aa64a;-webkit-text-stroke:0.35px #0aa64a;font-style:italic;left:432.60px;width:400px;text-align:center;transform:scaleX(0.93);">8 $</div>
<div class="t" style="top:493.25px;font-size:12px;line-height:12px;color:#1c5490;-webkit-text-stroke:0.35px #1c5490;font-style:italic;left:500.70px;width:400px;text-align:center;transform:scaleX(0.96);">216.3</div>
<div class="t" style="top:493.25px;font-size:12px;line-height:12px;color:#1c5490;-webkit-text-stroke:0.35px #1c5490;font-style:italic;left:583.20px;width:400px;text-align:center;transform:scaleX(0.97);">82.9</div>
<div class="t" style="top:493.25px;font-size:12px;line-height:12px;color:#404040;-webkit-text-stroke:0.35px #404040;font-style:italic;left:677.00px;width:400px;text-align:center;transform:scaleX(0.86);">87%</div>
<div class="t" style="top:511.40px;font-size:11px;line-height:11px;color:#4a4a4a;font-weight:bold;left:-112.50px;width:400px;text-align:center;transform:scaleX(0.9747);">NOV. 21</div>
<div class="t" style="top:510.40px;font-size:12px;line-height:12px;color:#4a4a4a;font-weight:bold;left:10.30px;width:400px;text-align:center;transform:scaleX(0.92);">181.1</div>
<div class="t" style="top:510.40px;font-size:12px;line-height:12px;color:#404040;-webkit-text-stroke:0.25px #404040;left:99.90px;width:400px;text-align:center;transform:scaleX(0.98);">163.8</div>
<div class="t" style="top:510.40px;font-size:12px;line-height:12px;color:#0aa64a;-webkit-text-stroke:0.35px #0aa64a;font-style:italic;left:188.90px;width:400px;text-align:center;transform:scaleX(0.93);">17 $</div>
<div class="t" style="top:510.40px;font-size:12px;line-height:12px;color:#4a4a4a;font-weight:bold;left:278.60px;width:400px;text-align:center;transform:scaleX(0.92);">69.4</div>
<div class="t" style="top:510.40px;font-size:12px;line-height:12px;color:#404040;-webkit-text-stroke:0.25px #404040;left:358.30px;width:400px;text-align:center;transform:scaleX(0.99);">61.3</div>
<div class="t" style="top:510.40px;font-size:12px;line-height:12px;color:#0aa64a;-webkit-text-stroke:0.35px #0aa64a;font-style:italic;left:432.60px;width:400px;text-align:center;transform:scaleX(0.93);">8 $</div>
<div class="t" style="top:510.40px;font-size:12px;line-height:12px;color:#1c5490;-webkit-text-stroke:0.35px #1c5490;font-style:italic;left:500.70px;width:400px;text-align:center;transform:scaleX(0.96);">210.9</div>
<div class="t" style="top:510.40px;font-size:12px;line-height:12px;color:#1c5490;-webkit-text-stroke:0.35px #1c5490;font-style:italic;left:583.20px;width:400px;text-align:center;transform:scaleX(0.97);">80.8</div>
<div class="t" style="top:510.40px;font-size:12px;line-height:12px;color:#404040;-webkit-text-stroke:0.35px #404040;font-style:italic;left:677.00px;width:400px;text-align:center;transform:scaleX(0.86);">86%</div>
<div class="t" style="top:528.55px;font-size:11px;line-height:11px;color:#4a4a4a;font-weight:bold;left:-113.09px;width:400px;text-align:center;transform:scaleX(0.9411);">DÉC. 21</div>
<div class="t" style="top:527.55px;font-size:12px;line-height:12px;color:#4a4a4a;font-weight:bold;left:10.30px;width:400px;text-align:center;transform:scaleX(0.92);">185.5</div>
<div class="t" style="top:527.55px;font-size:12px;line-height:12px;color:#404040;-webkit-text-stroke:0.25px #404040;left:99.90px;width:400px;text-align:center;transform:scaleX(0.98);">158.5</div>
<div class="t" style="top:527.55px;font-size:12px;line-height:12px;color:#0aa64a;-webkit-text-stroke:0.35px #0aa64a;font-style:italic;left:188.90px;width:400px;text-align:center;transform:scaleX(0.93);">27 $</div>
<div class="t" style="top:527.55px;font-size:12px;line-height:12px;color:#4a4a4a;font-weight:bold;left:278.60px;width:400px;text-align:center;transform:scaleX(0.92);">71.1</div>
<div class="t" style="top:527.55px;font-size:12px;line-height:12px;color:#404040;-webkit-text-stroke:0.25px #404040;left:358.30px;width:400px;text-align:center;transform:scaleX(0.99);">59.4</div>
<div class="t" style="top:527.55px;font-size:12px;line-height:12px;color:#0aa64a;-webkit-text-stroke:0.35px #0aa64a;font-style:italic;left:432.60px;width:400px;text-align:center;transform:scaleX(0.93);">12 $</div>
<div class="t" style="top:527.55px;font-size:12px;line-height:12px;color:#1c5490;-webkit-text-stroke:0.35px #1c5490;font-style:italic;left:500.70px;width:400px;text-align:center;transform:scaleX(0.96);">209.5</div>
<div class="t" style="top:527.55px;font-size:12px;line-height:12px;color:#1c5490;-webkit-text-stroke:0.35px #1c5490;font-style:italic;left:583.20px;width:400px;text-align:center;transform:scaleX(0.97);">80.3</div>
<div class="t" style="top:527.55px;font-size:12px;line-height:12px;color:#404040;-webkit-text-stroke:0.35px #404040;font-style:italic;left:677.00px;width:400px;text-align:center;transform:scaleX(0.86);">89%</div>
<div class="t" style="top:545.70px;font-size:11px;line-height:11px;color:#4a4a4a;font-weight:bold;left:-111.56px;width:400px;text-align:center;transform:scaleX(0.9986);">JANV. 22</div>
<div class="t" style="top:544.70px;font-size:12px;line-height:12px;color:#4a4a4a;font-weight:bold;left:10.30px;width:400px;text-align:center;transform:scaleX(0.92);">189.1</div>
<div class="t" style="top:544.70px;font-size:12px;line-height:12px;color:#404040;-webkit-text-stroke:0.25px #404040;left:99.90px;width:400px;text-align:center;transform:scaleX(0.98);">165.4</div>
<div class="t" style="top:544.70px;font-size:12px;line-height:12px;color:#0aa64a;-webkit-text-stroke:0.35px #0aa64a;font-style:italic;left:188.90px;width:400px;text-align:center;transform:scaleX(0.93);">24 $</div>
<div class="t" style="top:544.70px;font-size:12px;line-height:12px;color:#4a4a4a;font-weight:bold;left:278.60px;width:400px;text-align:center;transform:scaleX(0.92);">72.5</div>
<div class="t" style="top:544.70px;font-size:12px;line-height:12px;color:#404040;-webkit-text-stroke:0.25px #404040;left:358.30px;width:400px;text-align:center;transform:scaleX(0.99);">62.8</div>
<div class="t" style="top:544.70px;font-size:12px;line-height:12px;color:#0aa64a;-webkit-text-stroke:0.35px #0aa64a;font-style:italic;left:432.60px;width:400px;text-align:center;transform:scaleX(0.93);">10 $</div>
<div class="t" style="top:544.70px;font-size:12px;line-height:12px;color:#1c5490;-webkit-text-stroke:0.35px #1c5490;font-style:italic;left:500.70px;width:400px;text-align:center;transform:scaleX(0.96);">208.3</div>
<div class="t" style="top:544.70px;font-size:12px;line-height:12px;color:#1c5490;-webkit-text-stroke:0.35px #1c5490;font-style:italic;left:583.20px;width:400px;text-align:center;transform:scaleX(0.97);">79.8</div>
<div class="t" style="top:544.70px;font-size:12px;line-height:12px;color:#404040;-webkit-text-stroke:0.35px #404040;font-style:italic;left:677.00px;width:400px;text-align:center;transform:scaleX(0.86);">91%</div>
<div class="t" style="top:562.85px;font-size:11px;line-height:11px;color:#4a4a4a;font-weight:bold;left:-112.27px;width:400px;text-align:center;transform:scaleX(0.9364);">FÉVR. 22</div>
<div class="t" style="top:561.85px;font-size:12px;line-height:12px;color:#4a4a4a;font-weight:bold;left:10.30px;width:400px;text-align:center;transform:scaleX(0.92);">193.3</div>
<div class="t" style="top:561.85px;font-size:12px;line-height:12px;color:#404040;-webkit-text-stroke:0.25px #404040;left:99.90px;width:400px;text-align:center;transform:scaleX(0.98);">173.9</div>
<div class="t" style="top:561.85px;font-size:12px;line-height:12px;color:#0aa64a;-webkit-text-stroke:0.35px #0aa64a;font-style:italic;left:188.90px;width:400px;text-align:center;transform:scaleX(0.93);">19 $</div>
<div class="t" style="top:561.85px;font-size:12px;line-height:12px;color:#4a4a4a;font-weight:bold;left:278.60px;width:400px;text-align:center;transform:scaleX(0.92);">74.1</div>
<div class="t" style="top:561.85px;font-size:12px;line-height:12px;color:#404040;-webkit-text-stroke:0.25px #404040;left:358.30px;width:400px;text-align:center;transform:scaleX(0.99);">65.7</div>
<div class="t" style="top:561.85px;font-size:12px;line-height:12px;color:#0aa64a;-webkit-text-stroke:0.35px #0aa64a;font-style:italic;left:432.60px;width:400px;text-align:center;transform:scaleX(0.93);">8 $</div>
<div class="t" style="top:561.85px;font-size:12px;line-height:12px;color:#1c5490;-webkit-text-stroke:0.35px #1c5490;font-style:italic;left:500.70px;width:400px;text-align:center;transform:scaleX(0.96);">209.7</div>
<div class="t" style="top:561.85px;font-size:12px;line-height:12px;color:#1c5490;-webkit-text-stroke:0.35px #1c5490;font-style:italic;left:583.20px;width:400px;text-align:center;transform:scaleX(0.97);">80.4</div>
<div class="t" style="top:561.85px;font-size:12px;line-height:12px;color:#404040;-webkit-text-stroke:0.35px #404040;font-style:italic;left:677.00px;width:400px;text-align:center;transform:scaleX(0.86);">92%</div>
<div class="t" style="top:580.00px;font-size:11px;line-height:11px;color:#4a4a4a;font-weight:bold;left:-112.17px;width:400px;text-align:center;transform:scaleX(0.9099);">MARS 22</div>
<div class="t" style="top:579.00px;font-size:12px;line-height:12px;color:#4a4a4a;font-weight:bold;left:10.30px;width:400px;text-align:center;transform:scaleX(0.92);">198.0</div>
<div class="t" style="top:579.00px;font-size:12px;line-height:12px;color:#404040;-webkit-text-stroke:0.25px #404040;left:99.90px;width:400px;text-align:center;transform:scaleX(0.98);">173.0</div>
<div class="t" style="top:579.00px;font-size:12px;line-height:12px;color:#0aa64a;-webkit-text-stroke:0.35px #0aa64a;font-style:italic;left:188.90px;width:400px;text-align:center;transform:scaleX(0.93);">25 $</div>
<div class="t" style="top:579.00px;font-size:12px;line-height:12px;color:#4a4a4a;font-weight:bold;left:278.60px;width:400px;text-align:center;transform:scaleX(0.92);">75.9</div>
<div class="t" style="top:579.00px;font-size:12px;line-height:12px;color:#404040;-webkit-text-stroke:0.25px #404040;left:358.30px;width:400px;text-align:center;transform:scaleX(0.99);">64.3</div>
<div class="t" style="top:579.00px;font-size:12px;line-height:12px;color:#0aa64a;-webkit-text-stroke:0.35px #0aa64a;font-style:italic;left:432.60px;width:400px;text-align:center;transform:scaleX(0.93);">12 $</div>
<div class="t" style="top:579.00px;font-size:12px;line-height:12px;color:#1c5490;-webkit-text-stroke:0.35px #1c5490;font-style:italic;left:500.70px;width:400px;text-align:center;transform:scaleX(0.96);">211.2</div>
<div class="t" style="top:579.00px;font-size:12px;line-height:12px;color:#1c5490;-webkit-text-stroke:0.35px #1c5490;font-style:italic;left:583.20px;width:400px;text-align:center;transform:scaleX(0.97);">80.9</div>
<div class="t" style="top:579.00px;font-size:12px;line-height:12px;color:#404040;-webkit-text-stroke:0.35px #404040;font-style:italic;left:677.00px;width:400px;text-align:center;transform:scaleX(0.86);">94%</div>
<div class="t" style="top:597.15px;font-size:11px;line-height:11px;color:#4a4a4a;font-weight:bold;left:-111.35px;width:400px;text-align:center;transform:scaleX(0.9708);">AVR. 22</div>
<div class="t" style="top:596.15px;font-size:12px;line-height:12px;color:#4a4a4a;font-weight:bold;left:10.30px;width:400px;text-align:center;transform:scaleX(0.92);">203.0</div>
<div class="t" style="top:596.15px;font-size:12px;line-height:12px;color:#404040;-webkit-text-stroke:0.25px #404040;left:99.90px;width:400px;text-align:center;transform:scaleX(0.98);">172.0</div>
<div class="t" style="top:596.15px;font-size:12px;line-height:12px;color:#0aa64a;-webkit-text-stroke:0.35px #0aa64a;font-style:italic;left:188.90px;width:400px;text-align:center;transform:scaleX(0.93);">31 $</div>
<div class="t" style="top:596.15px;font-size:12px;line-height:12px;color:#4a4a4a;font-weight:bold;left:278.60px;width:400px;text-align:center;transform:scaleX(0.92);">77.8</div>
<div class="t" style="top:596.15px;font-size:12px;line-height:12px;color:#404040;-webkit-text-stroke:0.25px #404040;left:358.30px;width:400px;text-align:center;transform:scaleX(0.99);">63.6</div>
<div class="t" style="top:596.15px;font-size:12px;line-height:12px;color:#0aa64a;-webkit-text-stroke:0.35px #0aa64a;font-style:italic;left:432.60px;width:400px;text-align:center;transform:scaleX(0.93);">14 $</div>
<div class="t" style="top:596.15px;font-size:12px;line-height:12px;color:#1c5490;-webkit-text-stroke:0.35px #1c5490;font-style:italic;left:500.70px;width:400px;text-align:center;transform:scaleX(0.96);">213.4</div>
<div class="t" style="top:596.15px;font-size:12px;line-height:12px;color:#1c5490;-webkit-text-stroke:0.35px #1c5490;font-style:italic;left:583.20px;width:400px;text-align:center;transform:scaleX(0.97);">81.8</div>
<div class="t" style="top:596.15px;font-size:12px;line-height:12px;color:#404040;-webkit-text-stroke:0.35px #404040;font-style:italic;left:677.00px;width:400px;text-align:center;transform:scaleX(0.86);">95%</div>
<div class="t" style="top:614.30px;font-size:11px;line-height:11px;color:#4a4a4a;font-weight:bold;left:-111.63px;width:400px;text-align:center;transform:scaleX(0.9496);">MAI 22</div>
<div class="t" style="top:613.30px;font-size:12px;line-height:12px;color:#4a4a4a;font-weight:bold;left:10.30px;width:400px;text-align:center;transform:scaleX(0.92);">214.2</div>
<div class="t" style="top:613.30px;font-size:12px;line-height:12px;color:#404040;-webkit-text-stroke:0.25px #404040;left:99.90px;width:400px;text-align:center;transform:scaleX(0.98);">195.8</div>
<div class="t" style="top:613.30px;font-size:12px;line-height:12px;color:#0aa64a;-webkit-text-stroke:0.35px #0aa64a;font-style:italic;left:188.90px;width:400px;text-align:center;transform:scaleX(0.93);">18 $</div>
<div class="t" style="top:613.30px;font-size:12px;line-height:12px;color:#4a4a4a;font-weight:bold;left:278.60px;width:400px;text-align:center;transform:scaleX(0.92);">82.1</div>
<div class="t" style="top:613.30px;font-size:12px;line-height:12px;color:#404040;-webkit-text-stroke:0.25px #404040;left:358.30px;width:400px;text-align:center;transform:scaleX(0.99);">71.7</div>
<div class="t" style="top:613.30px;font-size:12px;line-height:12px;color:#0aa64a;-webkit-text-stroke:0.35px #0aa64a;font-style:italic;left:432.60px;width:400px;text-align:center;transform:scaleX(0.93);">10 $</div>
<div class="t" style="top:613.30px;font-size:12px;line-height:12px;color:#1c5490;-webkit-text-stroke:0.35px #1c5490;font-style:italic;left:500.70px;width:400px;text-align:center;transform:scaleX(0.96);">220.7</div>
<div class="t" style="top:613.30px;font-size:12px;line-height:12px;color:#1c5490;-webkit-text-stroke:0.35px #1c5490;font-style:italic;left:583.20px;width:400px;text-align:center;transform:scaleX(0.97);">84.6</div>
<div class="t" style="top:613.30px;font-size:12px;line-height:12px;color:#404040;-webkit-text-stroke:0.35px #404040;font-style:italic;left:677.00px;width:400px;text-align:center;transform:scaleX(0.86);">97%</div>
</body></html>
